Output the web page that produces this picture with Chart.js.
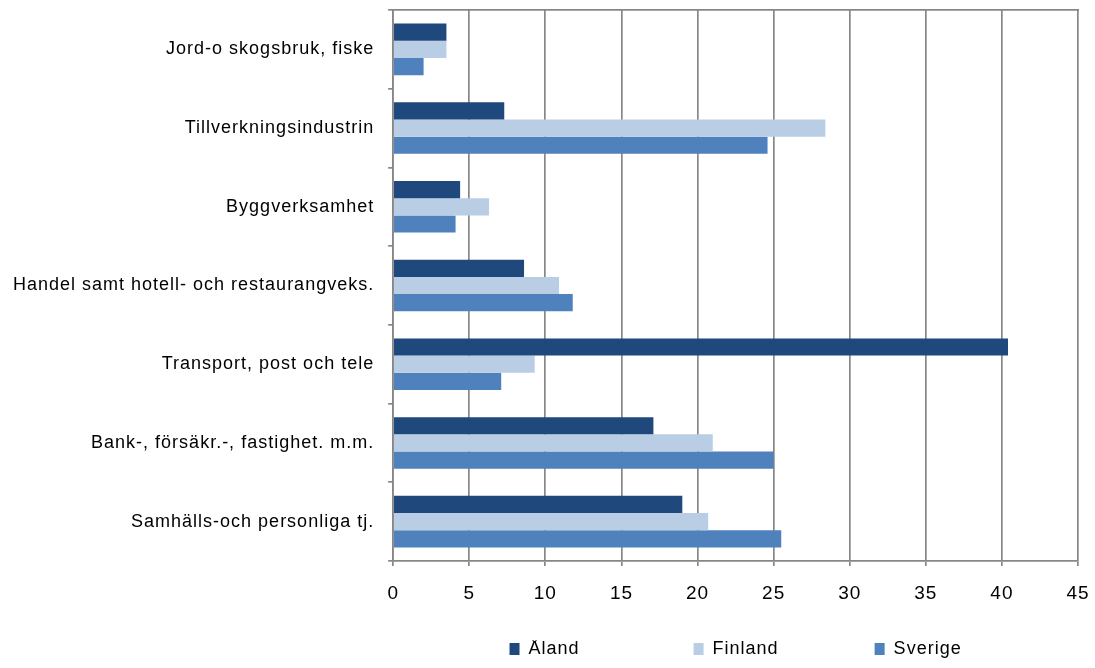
<!DOCTYPE html>
<html>
<head>
<meta charset="utf-8">
<script src="https://cdn.jsdelivr.net/npm/chart.js@4"></script>
<style>
  html, body { margin: 0; padding: 0; background: #fff; }
  #wrap { width: 1095px; height: 668px; }
</style>
</head>
<body>
<div id="wrap"><canvas id="barChart" width="1095" height="668"></canvas></div>
<script>
// sectors and values per region
var categories = [
  "Jord-o skogsbruk, fiske",
  "Tillverkningsindustrin",
  "Byggverksamhet",
  "Handel samt hotell- och restaurangveks.",
  "Transport, post och tele",
  "Bank-, försäkr.-, fastighet. m.m.",
  "Samhälls-och personliga tj."
];
var seriesNames = ["Åland", "Finland", "Sverige"];
var aland   = [3.5, 7.3, 4.4, 8.6, 40.4, 17.1, 19.0];
var finland = [3.5, 28.4, 6.3, 10.9, 9.3, 21.0, 20.7];
var sverige = [2.0, 24.6, 4.1, 11.8, 7.1, 25.0, 25.5];
var xTicks = [0, 5, 10, 15, 20, 25, 30, 35, 40, 45];

var gridColor = "#878787";
var fontFamily = "'Liberation Sans', Arial, sans-serif";

// legend entries get trailing blanks so the three entries sit in even slots
var legendPad = [19, 16, 0];

// slightly wider letter spacing on all canvas text
var spacingPlugin = {
    id: 'spacing',
    beforeUpdate: function(chart){ chart.ctx.letterSpacing = '1px'; },
    beforeDraw: function(chart){ chart.ctx.letterSpacing = '1px'; }
};

function drawChart(){
    const CHART = document.getElementById('barChart');
    let barChart = new Chart(CHART, {
        type: 'bar',
        data: {
          labels: categories,
          datasets: [
            { label: seriesNames[0], data: aland, backgroundColor: "#1f497d" },
            { label: seriesNames[1], data: finland, backgroundColor: "#b9cde5" },
            { label: seriesNames[2], data: sverige, backgroundColor: "#4f81bd" }
          ]
        },
        plugins: [spacingPlugin],
        options: {
          indexAxis: 'y',
          responsive: false,
          animation: false,
          layout: { padding: { left: -1, right: 17, top: 10, bottom: 0 } },
          datasets: { bar: { categoryPercentage: 0.655, barPercentage: 1.0 } },
          scales: {
            x: {
              min: 0, max: 45,
              afterBuildTicks: function(axis){ axis.ticks = xTicks.map(function(v){ return { value: v }; }); },
              afterFit: function(axis){ axis.height = 79; axis.paddingLeft = 0; axis.paddingRight = 0; },
              grid: { color: gridColor, lineWidth: 1.7, tickLength: 5 },
              border: { color: gridColor, width: 1.7 },
              ticks: { color: "#000", font: { family: fontFamily, size: 19 }, padding: 16, maxRotation: 0 }
            },
            xTop: {
              position: 'top',
              type: 'linear',
              min: 0, max: 45,
              grid: { display: false, drawTicks: false },
              border: { color: gridColor, width: 1.7 },
              ticks: { display: false },
              afterFit: function(axis){ axis.height = 0; axis.paddingLeft = 0; axis.paddingRight = 0; }
            },
            y: {
              afterFit: function(axis){ axis.paddingTop = 0; axis.paddingBottom = 0; },
              grid: { offset: true, drawOnChartArea: false, color: gridColor, lineWidth: 1.7, tickLength: 5 },
              border: { color: gridColor, width: 1.7 },
              ticks: { color: "#000", font: { family: fontFamily, size: 18 }, padding: 14 }
            }
          },
          plugins: {
            tooltip: { enabled: false },
            legend: {
              position: 'bottom',
              fullSize: false,
              labels: {
                color: "#000",
                font: { family: fontFamily, size: 18 },
                boxWidth: 10,
                boxHeight: 12,
                padding: 0,
                generateLabels: function(chart){
                    var items = Chart.defaults.plugins.legend.labels.generateLabels(chart);
                    items.forEach(function(item, i){
                        item.text = item.text + " ".repeat(legendPad[i]);
                    });
                    return items;
                }
              }
            }
          }
        }
    });
}

drawChart();
</script>
</body>
</html>
